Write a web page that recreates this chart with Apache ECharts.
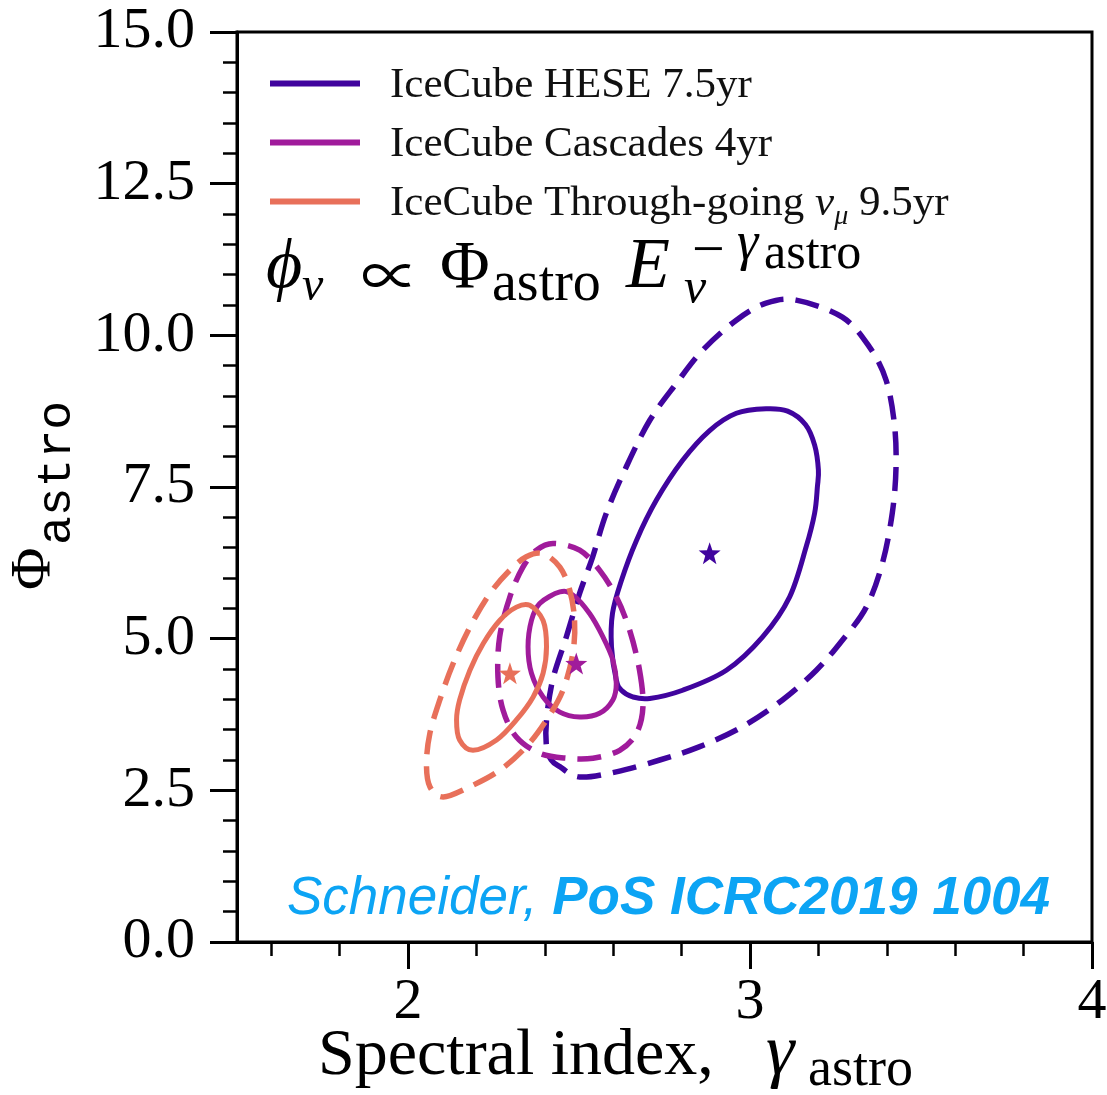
<!DOCTYPE html>
<html>
<head>
<meta charset="utf-8">
<script src="https://cdn.jsdelivr.net/npm/echarts@6.0.0/dist/echarts.min.js"></script>
<style>
  html, body { margin: 0; padding: 0; background: #ffffff; }
  #chart { width: 1107px; height: 1095px; }
</style>
</head>
<body>
<div id="chart"></div>
<script>
// Axis ranges and tick values
const xRange = [1.5, 4];
const yRange = [0, 15];
const yInterval = 2.5;
const xMajorTicks = [2, 3, 4];
const xMinorTicks = [1.6, 1.8, 2.2, 2.4, 2.6, 2.8, 3.2, 3.4, 3.6, 3.8];

// Series names
const nameHESE = 'IceCube HESE 7.5yr';
const nameCascades = 'IceCube Cascades 4yr';
const nameThrough = 'IceCube Through-going νμ 9.5yr';

// Closed contour vertices [gamma, Phi]; 68% (solid) and 95% (dashed) regions
const hese68 = [
  [3.197, 7.50], [3.189, 7.07], [3.164, 6.51], [3.116, 5.69], [3.037, 5.03], [2.931, 4.48],
  [2.803, 4.15], [2.707, 4.015], [2.657, 4.04], [2.624, 4.15], [2.609, 4.32], [2.595, 4.865],
  [2.598, 5.42], [2.624, 5.96], [2.668, 6.62], [2.726, 7.28], [2.803, 7.94], [2.882, 8.43],
  [2.960, 8.715], [3.047, 8.79], [3.110, 8.75], [3.162, 8.53], [3.189, 8.19], [3.200, 7.78]
];
const hese95 = [
  [3.427, 7.83], [3.416, 7.07], [3.387, 6.24], [3.340, 5.52], [3.270, 4.975], [3.194, 4.48],
  [3.095, 3.99], [2.978, 3.55], [2.853, 3.22], [2.736, 3.00], [2.609, 2.805], [2.502, 2.72],
  [2.444, 2.89], [2.419, 3.00], [2.405, 3.22], [2.405, 3.66], [2.423, 4.32], [2.463, 5.03],
  [2.502, 5.75], [2.540, 6.35], [2.580, 7.07], [2.638, 7.83], [2.707, 8.60], [2.785, 9.21],
  [2.861, 9.75], [2.960, 10.25], [3.047, 10.53], [3.135, 10.58], [3.270, 10.30], [3.349, 9.81],
  [3.398, 9.26], [3.422, 8.55]
];
const cascades68 = [
  [2.599, 4.65], [2.609, 4.26], [2.599, 3.99], [2.560, 3.77], [2.502, 3.71], [2.444, 3.79],
  [2.395, 4.04], [2.361, 4.43], [2.351, 4.865], [2.361, 5.30], [2.385, 5.58], [2.444, 5.77],
  [2.482, 5.72], [2.531, 5.415], [2.570, 5.03]
];
const cascades95 = [
  [2.677, 4.48], [2.687, 3.88], [2.668, 3.44], [2.619, 3.16], [2.541, 3.03], [2.463, 3.03],
  [2.385, 3.11], [2.317, 3.38], [2.278, 3.82], [2.263, 4.37], [2.268, 5.03], [2.298, 5.69],
  [2.336, 6.18], [2.376, 6.46], [2.424, 6.57], [2.502, 6.46], [2.560, 6.13], [2.609, 5.69],
  [2.648, 5.14]
];
const through68 = [
  [2.405, 4.865], [2.395, 4.43], [2.366, 4.04], [2.317, 3.66], [2.259, 3.33], [2.190, 3.16],
  [2.151, 3.33], [2.142, 3.66], [2.151, 3.99], [2.181, 4.48], [2.220, 4.92], [2.268, 5.30],
  [2.317, 5.52], [2.356, 5.55], [2.395, 5.30]
];
const through95 = [
  [2.487, 5.30], [2.482, 4.76], [2.453, 4.15], [2.405, 3.66], [2.346, 3.22], [2.268, 2.83],
  [2.181, 2.56], [2.103, 2.39], [2.064, 2.56], [2.054, 2.94], [2.064, 3.44], [2.093, 3.99],
  [2.132, 4.59], [2.181, 5.19], [2.239, 5.74], [2.298, 6.13], [2.346, 6.35], [2.395, 6.40],
  [2.444, 6.18], [2.473, 5.80]
];

// Best-fit points
const bestHESE = [2.882, 6.41];
const bestCascades = [2.492, 4.59];
const bestThrough = [2.298, 4.43];

const colHESE = '#40049e';
const colCascades = '#a01b9b';
const colThrough = '#e8705a';

const SERIF = "'Liberation Serif', 'DejaVu Serif', serif";
const SANS = "'Liberation Sans', Arial, sans-serif";
const MONO = "'Liberation Mono', 'DejaVu Sans Mono', monospace";
const STAR = 'path://M0,-10 L2.35,-3.24 L9.51,-3.09 L3.8,1.24 L5.88,8.09 L0,4 L-5.88,8.09 L-3.8,1.24 L-9.51,-3.09 L-2.35,-3.24 Z';

// Closed Catmull-Rom spline through pixel points, as SVG path data
function closedSpline(px) {
  const n = px.length;
  const f = (v) => v.toFixed(2);
  let d = 'M' + f(px[0][0]) + ',' + f(px[0][1]);
  for (let i = 0; i < n; i++) {
    const p0 = px[(i - 1 + n) % n], p1 = px[i], p2 = px[(i + 1) % n], p3 = px[(i + 2) % n];
    const c1x = p1[0] + (p2[0] - p0[0]) / 6, c1y = p1[1] + (p2[1] - p0[1]) / 6;
    const c2x = p2[0] - (p3[0] - p1[0]) / 6, c2y = p2[1] - (p3[1] - p1[1]) / 6;
    d += ' C' + f(c1x) + ',' + f(c1y) + ' ' + f(c2x) + ',' + f(c2y) + ' ' + f(p2[0]) + ',' + f(p2[1]);
  }
  return d + ' Z';
}

// One confidence region, drawn as a closed smooth outline through its vertices
function contour(name, color, pts, dashed) {
  return {
    type: 'custom', name: name, coordinateSystem: 'cartesian2d',
    data: pts, silent: true,
    color: color, itemStyle: { color: color },
    encode: { x: 0, y: 1 },
    renderItem: function (params, api) {
      if (params.dataIndex !== 0) return null;
      const px = pts.map(function (p) { return api.coord(p); });
      return {
        type: 'path',
        shape: { pathData: closedSpline(px) },
        style: {
          fill: 'none', stroke: color, lineWidth: dashed ? 5.5 : 5,
          lineDash: dashed ? [24, 12] : null, lineCap: 'butt', lineJoin: 'round'
        }
      };
    }
  };
}
function best(name, color, pt) {
  return {
    type: 'scatter', name: name, data: [pt], symbol: STAR, symbolSize: 22,
    color: color, itemStyle: { color: color, opacity: 1 }, silent: true, emphasis: { disabled: true }
  };
}

// Plain text element helper; y is the vertical middle of the glyph box
function txt(x, y, text, size, family, opts) {
  opts = opts || {};
  return {
    type: 'text', x: x, y: y, silent: true,
    style: {
      text: text, fontSize: size, fontFamily: family,
      fontStyle: opts.italic ? 'italic' : 'normal',
      fontWeight: opts.bold ? 'bold' : 'normal',
      fill: opts.fill || '#000',
      align: 'left', textAlign: 'left', verticalAlign: 'middle', textVerticalAlign: 'middle'
    }
  };
}

const chart = echarts.init(document.getElementById('chart'), null, { renderer: 'canvas' });

chart.setOption({
  animation: false,
  backgroundColor: '#ffffff',
  textStyle: { fontFamily: SERIF },
  grid: {
    left: 237, right: 15, top: 32, bottom: 153,
    show: true, borderColor: '#000', borderWidth: 3, backgroundColor: 'transparent',
    containLabel: false, outerBoundsMode: 'none'
  },
  legend: {
    orient: 'vertical', left: 270, top: 64, padding: 0, itemGap: 16,
    itemWidth: 90, itemHeight: 6, icon: 'rect', selectedMode: false,
    data: [nameHESE, nameCascades, nameThrough],
    formatter: function (name) {
      if (name === nameThrough) {
        return '{t|IceCube Through-going }{nu|ν}{mu|μ}{t| 9.5yr}';
      }
      return '{p|' + name + '}';
    },
    textStyle: {
      padding: [0, 0, 0, 25], color: '#111',
      rich: {
        p: { fontFamily: SERIF, fontSize: 43, color: '#111', verticalAlign: 'top', padding: [9.5, 0, 5.5, 0] },
        t: { fontFamily: SERIF, fontSize: 43, color: '#111', verticalAlign: 'top', padding: [9.5, 0, 0, 0] },
        nu: { fontFamily: SERIF, fontSize: 43, fontStyle: 'italic', color: '#111', verticalAlign: 'top', padding: [9.5, 0, 0, 0] },
        mu: { fontFamily: SERIF, fontSize: 28, fontStyle: 'italic', color: '#111', verticalAlign: 'top', padding: [30, 0, 0, 0] }
      }
    }
  },
  xAxis: [
    {
      type: 'value', min: xRange[0], max: xRange[1], position: 'bottom',
      axisLine: { show: true, onZero: false, lineStyle: { color: '#000', width: 3 } },
      axisTick: { show: true, inside: false, length: 27, customValues: xMajorTicks, lineStyle: { color: '#000', width: 3 } },
      axisLabel: {
        customValues: xMajorTicks, margin: 32, fontSize: 58, fontFamily: SERIF, color: '#000',
        formatter: function (v) { return String(v); }
      },
      splitLine: { show: false }, minorTick: { show: false }, minorSplitLine: { show: false }
    },
    {
      type: 'value', min: xRange[0], max: xRange[1], position: 'bottom',
      axisLine: { show: false },
      axisTick: { show: true, inside: false, length: 14, customValues: xMinorTicks, lineStyle: { color: '#000', width: 2.5 } },
      axisLabel: { show: false },
      splitLine: { show: false }
    }
  ],
  yAxis: {
    type: 'value', min: yRange[0], max: yRange[1], interval: yInterval,
    axisLine: { show: true, onZero: false, lineStyle: { color: '#000', width: 3 } },
    axisTick: { show: true, inside: false, length: 27, lineStyle: { color: '#000', width: 3 } },
    minorTick: { show: true, splitNumber: 5, length: 14, lineStyle: { color: '#000', width: 2.5 } },
    axisLabel: {
      margin: 42, fontSize: 58, fontFamily: SERIF, color: '#000',
      formatter: function (v) { return v.toFixed(1); }
    },
    splitLine: { show: false }, minorSplitLine: { show: false }
  },
  series: [
    contour(nameHESE, colHESE, hese68, false),
    contour(nameHESE, colHESE, hese95, true),
    best(nameHESE, colHESE, bestHESE),
    contour(nameCascades, colCascades, cascades68, false),
    contour(nameCascades, colCascades, cascades95, true),
    best(nameCascades, colCascades, bestCascades),
    contour(nameThrough, colThrough, through68, false),
    contour(nameThrough, colThrough, through95, true),
    best(nameThrough, colThrough, bestThrough)
  ],
  graphic: [
    // Flux parameterisation
    txt(266, 269, 'ϕ', 70, SERIF, { italic: true }),
    txt(302, 287, 'ν', 48, SERIF, { italic: true }),
    txt(361, 275, '∝', 58, "'Noto Sans CJK JP', 'DejaVu Serif', serif"),
    txt(440, 269, 'Φ', 68, SERIF),
    txt(492, 285, 'astro', 56, SERIF),
    txt(626, 268, 'E', 72, SERIF, { italic: true }),
    txt(684, 290, 'ν', 50, SERIF, { italic: true }),
    txt(692, 253, '−', 58, SERIF),
    txt(737, 245, 'γ', 54, SERIF, { italic: true }),
    txt(764, 255, 'astro', 50, SERIF),
    // x-axis title
    txt(318, 1057, 'Spectral index,', 66, SERIF),
    txt(766, 1055, 'γ', 72, SERIF, { italic: true }),
    txt(808, 1071, 'astro', 54, SERIF),
    // y-axis title, rotated to read upwards
    {
      type: 'group', x: 0, y: 487, rotation: Math.PI / 2, silent: true,
      children: [
        txt(-103, 35, 'Φ', 58, SERIF),
        txt(-58, 57, 'astro', 48, MONO)
      ]
    },
    // Reference
    {
      type: 'text', x: 287, y: 899, silent: true,
      style: {
        text: '{a|Schneider, }{b|PoS ICRC2019 1004}',
        align: 'left', textAlign: 'left', verticalAlign: 'middle', textVerticalAlign: 'middle',
        rich: {
          a: { fontFamily: SANS, fontSize: 53, fontStyle: 'italic', fill: '#0ca4f4', color: '#0ca4f4' },
          b: { fontFamily: SANS, fontSize: 53, fontStyle: 'italic', fontWeight: 'bold', fill: '#0ca4f4', color: '#0ca4f4' }
        }
      }
    }
  ]
});
</script>
</body>
</html>
